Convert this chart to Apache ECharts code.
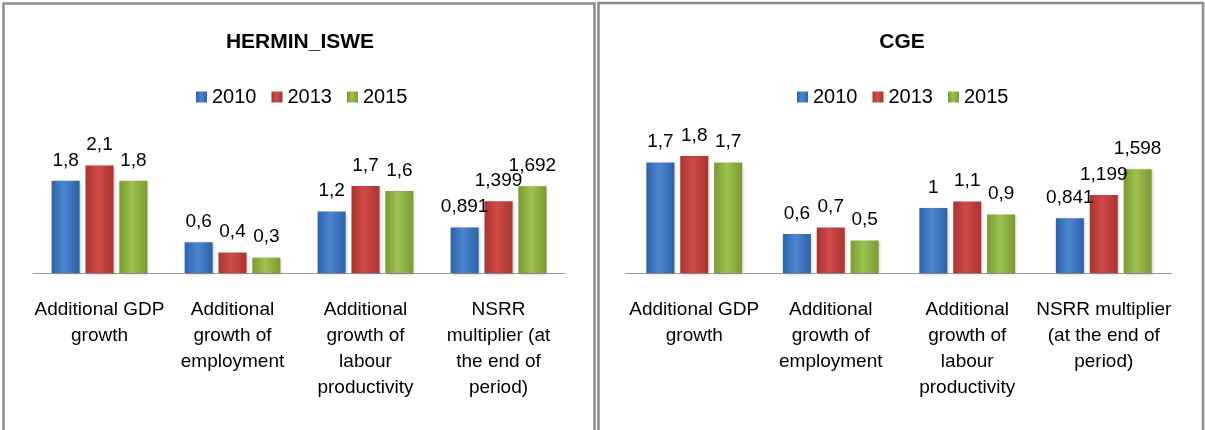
<!DOCTYPE html>
<html>
<head>
<meta charset="utf-8">
<script src="https://cdn.jsdelivr.net/npm/echarts@6/dist/echarts.min.js"></script>
<style>
html,body{margin:0;padding:0;background:#fff;}
#c{width:1205px;height:430px;}
</style>
</head>
<body>
<div id="c"></div>
<script>
const years = ['2010', '2013', '2015'];
const leftTitle = 'HERMIN_ISWE';
const rightTitle = 'CGE';
const leftCategories = ['Additional GDP\ngrowth', 'Additional\ngrowth of\nemployment', 'Additional\ngrowth of\nlabour\nproductivity', 'NSRR\nmultiplier (at\nthe end of\nperiod)'];
const rightCategories = ['Additional GDP\ngrowth', 'Additional\ngrowth of\nemployment', 'Additional\ngrowth of\nlabour\nproductivity', 'NSRR multiplier\n(at the end of\nperiod)'];
const left2010 = [1.8, 0.6, 1.2, 0.891];
const left2013 = [2.1, 0.4, 1.7, 1.399];
const left2015 = [1.8, 0.3, 1.6, 1.692];
const right2010 = [1.7, 0.6, 1, 0.841];
const right2013 = [1.8, 0.7, 1.1, 1.199];
const right2015 = [1.7, 0.5, 0.9, 1.598];

const FONT = '"Liberation Sans", Arial, sans-serif';
function grad(dark, light) {
  return new echarts.graphic.LinearGradient(0, 0, 1, 0, [
    {offset: 0, color: dark},
    {offset: 0.45, color: light},
    {offset: 1, color: dark}
  ]);
}
const palettes = [
  grad('#2f62a6', '#4a86d1'),
  grad('#a83432', '#d04b48'),
  grad('#7a9a33', '#9cc24e')
];
const legendColors = ['#3b74bd', '#c0413e', '#8fb241'];

function mkSeries(name, data, idx, axisIdx) {
  return {
    name: name, type: 'bar', data: data,
    xAxisIndex: axisIdx, yAxisIndex: axisIdx,
    barWidth: 28, barGap: '21%',
    itemStyle: {color: palettes[idx], shadowColor: 'rgba(0,0,0,0.25)', shadowBlur: 3, shadowOffsetX: 1, shadowOffsetY: 1},
    label: {
      show: true, position: 'top', distance: 11,
      fontFamily: FONT, fontSize: 19, color: '#000',
      formatter: p => String(p.value).replace('.', ',')
    },
    emphasis: {disabled: true}
  };
}

const leftData = [left2010, left2013, left2015];
const rightData = [right2010, right2013, right2015];
const series = [];
years.forEach((y, i) => series.push(mkSeries(y, leftData[i], i, 0)));
years.forEach((y, i) => series.push(mkSeries(y, rightData[i], i, 1)));

const xAxisCommon = {
  type: 'category',
  axisLine: {lineStyle: {color: '#9a9a9a', width: 1}},
  axisTick: {show: false},
  axisLabel: {interval: 0, margin: 24, fontFamily: FONT, fontSize: 19, lineHeight: 26, color: '#000'}
};

const chart = echarts.init(document.getElementById('c'), null, {renderer: 'canvas'});
chart.setOption({
  animation: false,
  color: legendColors,
  title: [
    {text: leftTitle, left: 300, textAlign: 'center', top: 32, padding: 0,
     textStyle: {fontFamily: FONT, fontSize: 21, fontWeight: 'bold', color: '#000'}},
    {text: rightTitle, left: 902, textAlign: 'center', top: 32, padding: 0,
     textStyle: {fontFamily: FONT, fontSize: 21, fontWeight: 'bold', color: '#000'}}
  ],
  legend: [
    {data: years, left: 196, top: 87, padding: 0, itemWidth: 11, itemHeight: 11, itemGap: 15, icon: 'rect',
     textStyle: {fontFamily: FONT, fontSize: 20, color: '#000'}, selectedMode: false},
    {data: years, left: 797, top: 87, padding: 0, itemWidth: 11, itemHeight: 11, itemGap: 15, icon: 'rect',
     textStyle: {fontFamily: FONT, fontSize: 20, color: '#000'}, selectedMode: false}
  ],
  grid: [
    {left: 33, right: 640, top: 145, bottom: 157},
    {left: 626, right: 33, top: 143, bottom: 157}
  ],
  xAxis: [
    Object.assign({gridIndex: 0, data: leftCategories}, xAxisCommon),
    Object.assign({gridIndex: 1, data: rightCategories}, xAxisCommon)
  ],
  yAxis: [
    {gridIndex: 0, type: 'value', min: 0, max: 2.5, show: false},
    {gridIndex: 1, type: 'value', min: 0, max: 2, show: false}
  ],
  graphic: [
    {type: 'rect', shape: {x: 3.5, y: 3.5, width: 591, height: 500}, style: {fill: 'none', stroke: '#8c8c8c', lineWidth: 2.5}, silent: true},
    {type: 'rect', shape: {x: 598.5, y: 3, width: 604.5, height: 500}, style: {fill: 'none', stroke: '#8c8c8c', lineWidth: 2.5}, silent: true}
  ],
  series: series
});
</script>
</body>
</html>
